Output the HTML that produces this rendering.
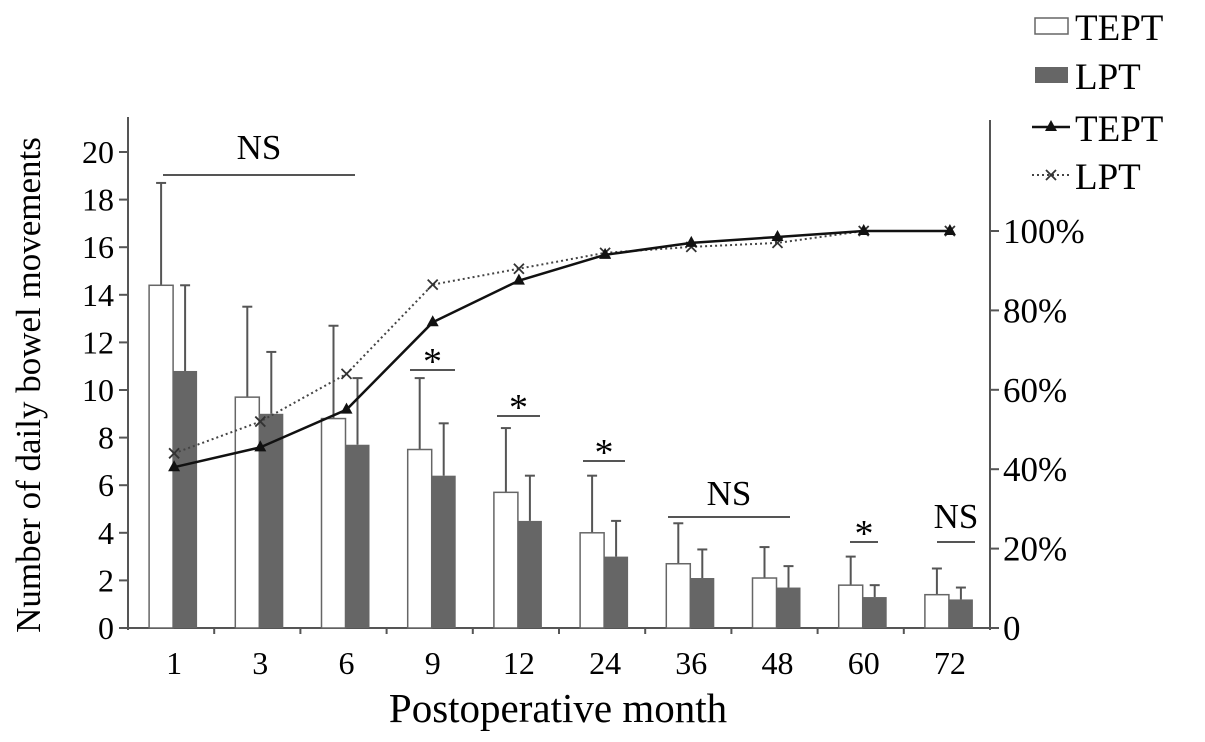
<!DOCTYPE html>
<html><head><meta charset="utf-8"><style>
body{margin:0;background:#fff}
svg{display:block;font-family:"Liberation Serif",serif}
</style></head><body>
<svg id="c" width="1205" height="742"></svg>
<script>
const categories=["1","3","6","9","12","24","36","48","60","72"];
const teptBars=[14.4,9.7,8.8,7.5,5.7,4.0,2.7,2.1,1.8,1.4];
const lptBars=[10.8,9.0,7.7,6.4,4.5,3.0,2.1,1.7,1.3,1.2];
const teptErr=[18.7,13.5,12.7,10.5,8.4,6.4,4.4,3.4,3.0,2.5];
const lptErr=[14.4,11.6,10.5,8.6,6.4,4.5,3.3,2.6,1.8,1.7];
const teptPct=[40.5,45.5,55,77,87.5,94,97,98.5,100,100];
const lptPct=[44,52,64,86.5,90.5,94.5,96,97,100,100];
const leftTicks=[0,2,4,6,8,10,12,14,16,18,20];
const rightTicks=[0,20,40,60,80,100];

const NS="http://www.w3.org/2000/svg";
const svg=document.getElementById('c');
const X0=128,X1=990,Y0=628;
const step=(X1-X0)/10;
const xC=i=>X0+step*(i+0.5)+3;
const yL=v=>Y0-v*(476/20);
const yR=p=>Y0-p*(397/100);
function el(t,a,txt){const e=document.createElementNS(NS,t);for(const k in a)e.setAttribute(k,a[k]);if(txt!==undefined)e.textContent=txt;svg.appendChild(e);return e;}
const ax="#555";
let e;
e=el('line',{x1:X0,y1:117,x2:X0,y2:Y0+2,stroke:ax,'stroke-width':2});

e=el('line',{x1:X1,y1:120,x2:X1,y2:Y0+2,stroke:ax,'stroke-width':2});

e=el('line',{x1:X0,y1:Y0,x2:X1+8,y2:Y0,stroke:ax,'stroke-width':2});

leftTicks.forEach(v=>{
 el('line',{x1:X0-9,y1:yL(v),x2:X0,y2:yL(v),stroke:ax,'stroke-width':2});
 e=el('text',{x:X0-14,y:yL(v)+11,'text-anchor':'end','font-size':32},v);
 
});
rightTicks.forEach(v=>{
 el('line',{x1:X1,y1:yR(v),x2:X1+9,y2:yR(v),stroke:ax,'stroke-width':2});
 e=el('text',{x:X1+13,y:yR(v)+12,'font-size':35},v===0?'0':v+'%');
 
});
for(let i=1;i<10;i++)el('line',{x1:X0+step*i,y1:Y0,x2:X0+step*i,y2:Y0+6,stroke:ax,'stroke-width':2});
categories.forEach((c,i)=>{
 e=el('text',{x:xC(i),y:674,'text-anchor':'middle','font-size':32},c);
 
});
const bw=24;
categories.forEach((c,i)=>{
 const xa=xC(i)-bw-1,xb=xC(i)-1;
 el('line',{x1:xa+bw/2,y1:yL(teptErr[i]),x2:xa+bw/2,y2:yL(teptBars[i]),stroke:ax,'stroke-width':2});
 el('line',{x1:xa+bw/2-5,y1:yL(teptErr[i]),x2:xa+bw/2+5,y2:yL(teptErr[i]),stroke:ax,'stroke-width':2});
 e=el('rect',{x:xa,y:yL(teptBars[i]),width:bw,height:Y0-yL(teptBars[i]),fill:'#fff',stroke:'#666','stroke-width':1.5});
 
 el('line',{x1:xb+bw/2,y1:yL(lptErr[i]),x2:xb+bw/2,y2:yL(lptBars[i]),stroke:ax,'stroke-width':2});
 el('line',{x1:xb+bw/2-5,y1:yL(lptErr[i]),x2:xb+bw/2+5,y2:yL(lptErr[i]),stroke:ax,'stroke-width':2});
 e=el('rect',{x:xb,y:yL(lptBars[i]),width:bw,height:Y0-yL(lptBars[i]),fill:'#666'});
 
});
e=el('polyline',{points:lptPct.map((p,i)=>xC(i)+','+yR(p)).join(' '),fill:'none',stroke:'#444','stroke-width':2,'stroke-dasharray':'2,3'});

lptPct.forEach((p,i)=>{const x=xC(i),y=yR(p);
 el('path',{d:`M${x-5},${y-5}L${x+5},${y+5}M${x-5},${y+5}L${x+5},${y-5}`,stroke:'#333','stroke-width':1.8});});
e=el('polyline',{points:teptPct.map((p,i)=>xC(i)+','+yR(p)).join(' '),fill:'none',stroke:'#111','stroke-width':2.5});

teptPct.forEach((p,i)=>{const x=xC(i),y=yR(p);
 el('path',{d:`M${x},${y-7}L${x+6},${y+4}L${x-6},${y+4}Z`,fill:'#111'});});
function sig(x1,x2,y,t,fs,dy){el('line',{x1,y1:y,x2,y2:y,stroke:ax,'stroke-width':2});
 e=el('text',{x:(x1+x2)/2,y:y-dy,'text-anchor':'middle','font-size':fs},t);
 }
sig(163,355,175,'NS',35,16);
sig(410,455,370,'*',38,-4);
sig(497,540,416,'*',38,-4);
sig(583,625,461,'*',38,-4);
sig(850,878,542,'*',38,-4);
sig(668,790,517,'NS',35,12);
sig(937,975,542,'NS',35,14);
e=el('text',{x:558,y:722,'text-anchor':'middle','font-size':41},'Postoperative month');

e=el('text',{x:0,y:0,'text-anchor':'middle','font-size':35,transform:'translate(40,385) rotate(-90)'},'Number of daily bowel movements');

e=el('rect',{x:1035,y:18,width:33,height:16,fill:'#fff',stroke:'#666','stroke-width':1.5});

e=el('rect',{x:1035,y:67,width:33,height:16,fill:'#666'});

el('line',{x1:1032,y1:127,x2:1070,y2:127,stroke:'#111','stroke-width':2.5});
el('path',{d:'M1051,120L1057,131L1045,131Z',fill:'#111'});
el('line',{x1:1032,y1:175,x2:1070,y2:175,stroke:'#444','stroke-width':2,'stroke-dasharray':'2,3'});
el('path',{d:'M1046,170L1056,180M1046,180L1056,170',stroke:'#333','stroke-width':1.8});
[['TEPT',40],['LPT',89],['TEPT',141],['LPT',189]].forEach(([t,y])=>{
 e=el('text',{x:1075,y:y,'font-size':37},t);
 });
</script>
</body></html>
